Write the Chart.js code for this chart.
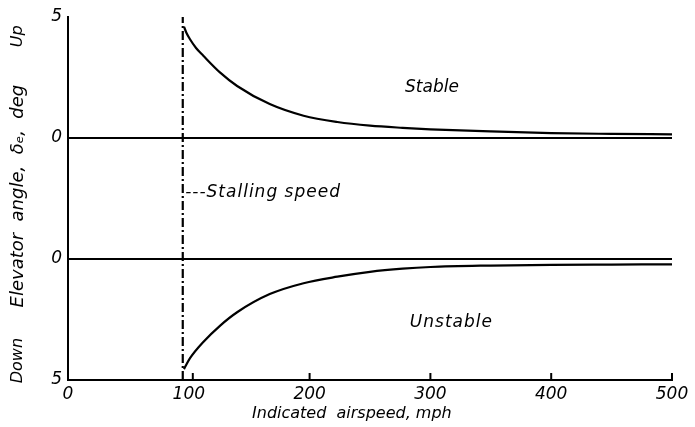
<!DOCTYPE html>
<html>
<head>
<meta charset="utf-8">
<script src="https://cdn.jsdelivr.net/npm/chart.js@4.4.0/dist/chart.umd.min.js"></script>
<style>
  html, body { margin: 0; padding: 0; background: #fff; }
  #wrap { width: 695px; height: 427px; position: relative; }
</style>
</head>
<body>
<div id="wrap"><canvas id="elevChart"></canvas></div>
<script>
// * data (speed in mph, angle in deg)
const stallSpeed = 95;
const speedUp = [96, 98, 101, 106, 112, 126, 140, 167, 195, 223, 250, 277, 300, 350, 400, 450, 500];
const angleUp = [4.6, 4.35, 4.08, 3.72, 3.4, 2.7, 2.15, 1.4, 0.92, 0.66, 0.51, 0.42, 0.36, 0.27, 0.2, 0.17, 0.15];
const speedDown = [96, 101, 112, 126, 140, 167, 195, 223, 250, 277, 300, 350, 400, 450, 500];
const angleDown = [-4.55, -4.1, -3.43, -2.75, -2.2, -1.45, -1.0, -0.73, -0.53, -0.4, -0.33, -0.27, -0.24, -0.23, -0.22];
const zeroLineX = [0, 500];
const xTicks = [0, 100, 200, 300, 400, 500];
// the two halves share one axis: lower zero sits at 5, upper zero at 10
const upperZero = 10;
const lowerZero = 5;
const yTickValues = [0, 5, 10, 15];
const yTickLabels = ["5", "0", "0", "5"];

const ink = "#000";
const fam = "'DejaVu Sans', sans-serif";

const toPts = (xs, ys, off) => xs.map((x, i) => ({ x: x, y: ys[i] + off }));

// ? text and small marks the library does not draw itself
const extras = {
  id: "extras",
  afterDraw(chart) {
    const { ctx, scales } = chart;
    const xs = scales.x, ys = scales.y;
    ctx.save();
    ctx.fillStyle = ink;
    ctx.strokeStyle = ink;
    // inward ticks on the speed axis
    ctx.lineWidth = 2;
    xTicks.slice(1).forEach((v) => {
      const px = xs.getPixelForValue(v) + (v === 100 ? 4 : 0);
      ctx.beginPath();
      ctx.moveTo(px, ys.bottom);
      ctx.lineTo(px, ys.bottom - 7);
      ctx.stroke();
    });
    ctx.textBaseline = "middle";
    ctx.textAlign = "left";
    ctx.font = "italic 17px " + fam;
    ctx.fillText("Stable", xs.getPixelForValue(279), ys.getPixelForValue(12.1));
    ctx.letterSpacing = "1px";
    ctx.fillText("Unstable", xs.getPixelForValue(283), ys.getPixelForValue(2.36));
    ctx.fillText("---Stalling speed", xs.getPixelForValue(97), ys.getPixelForValue(7.73));
    ctx.letterSpacing = "0px";
    ctx.textAlign = "center";
    ctx.font = "italic 16px " + fam;
    ctx.fillText("Indicated  airspeed, mph", xs.getPixelForValue(235), 414);
    // angle title with Up / Down beside it
    [["Up", 14.2, 16], ["Elevator  angle,  δₑ,  deg", 7.6, 18], ["Down", 0.8, 16]].forEach(([t, v, sz]) => {
      ctx.save();
      ctx.font = "italic " + sz + "px " + fam;
      ctx.translate(18, ys.getPixelForValue(v));
      ctx.rotate(-Math.PI / 2);
      ctx.fillText(t, 0, 0);
      ctx.restore();
    });
    ctx.restore();
  },
};

const lineStyle = {
  borderColor: ink,
  borderWidth: 2.2,
  pointRadius: 0,
  fill: false,
};

new Chart(document.getElementById("elevChart"), {
  type: "line",
  data: {
    datasets: [
      { ...lineStyle, data: toPts(speedUp, angleUp, upperZero), cubicInterpolationMode: "monotone" },
      { ...lineStyle, data: toPts(speedDown, angleDown, lowerZero), cubicInterpolationMode: "monotone" },
      { ...lineStyle, data: toPts(zeroLineX, [0, 0], upperZero) },
      { ...lineStyle, data: toPts(zeroLineX, [0, 0], lowerZero) },
      {
        ...lineStyle,
        borderDash: [9, 3, 2, 3],
        data: [{ x: stallSpeed, y: yTickValues[0] }, { x: stallSpeed, y: yTickValues[3] }],
      },
    ],
  },
  options: {
    responsive: true,
    maintainAspectRatio: false,
    animation: false,
    layout: { padding: { top: 17, right: 23, left: 0, bottom: 0 } },
    plugins: { legend: { display: false }, tooltip: { enabled: false } },
    scales: {
      x: {
        type: "linear",
        min: 0,
        max: 500,
        afterBuildTicks: (s) => { s.ticks = xTicks.map((v) => ({ value: v })); },
        afterFit: (s) => { s.height = 47; },
        grid: { display: false, drawTicks: false },
        border: { display: true, color: ink, width: 2 },
        ticks: { color: ink, padding: 4, maxRotation: 0, font: { family: fam, size: 17, style: "italic" } },
      },
      y: {
        type: "linear",
        min: 0,
        max: 15,
        afterBuildTicks: (s) => { s.ticks = yTickValues.map((v) => ({ value: v })); },
        afterFit: (s) => { s.width = 68; },
        grid: { display: false, drawTicks: false },
        border: { display: true, color: ink, width: 2 },
        ticks: {
          color: ink,
          padding: 6,
          font: { family: fam, size: 17, style: "italic" },
          callback: (v) => yTickLabels[yTickValues.indexOf(v)],
        },
      },
    },
  },
  plugins: [extras],
});
</script>
</body>
</html>
